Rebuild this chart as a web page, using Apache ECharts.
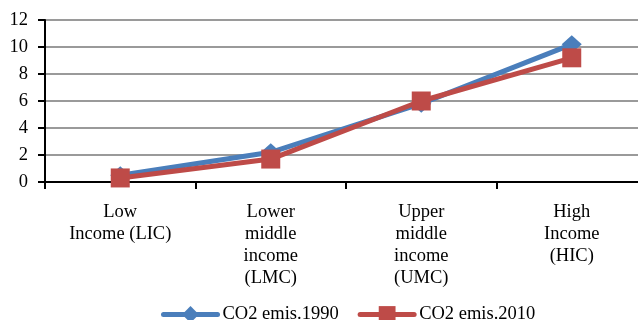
<!DOCTYPE html>
<html>
<head>
<meta charset="utf-8">
<script src="https://cdn.jsdelivr.net/npm/echarts@6/dist/echarts.min.js"></script>
<style>
  html, body { margin: 0; padding: 0; background: #fff; overflow: hidden; }
  /* plot area runs slightly past the right edge of the window */
  #chart { width: 647px; height: 320px; }
</style>
</head>
<body>
<div id="chart"></div>
<script>
// Income groups on the category axis
const categories = [
  'Low\nIncome (LIC)',
  'Lower\nmiddle\nincome\n(LMC)',
  'Upper\nmiddle\nincome\n(UMC)',
  'High\nIncome\n(HIC)'
];
// CO2 emissions per capita (metric tons)
const emis1990 = [0.5, 2.2, 5.8, 10.2];
const emis2010 = [0.3, 1.7, 6.0, 9.2];
const yTicks = { min: 0, max: 12, interval: 2 };

const font = '"Liberation Serif", "Times New Roman", serif';
const fs = 18.5;
const chart = echarts.init(document.getElementById('chart'), null, { renderer: 'canvas' });

chart.setOption({
  animation: false,
  backgroundColor: '#ffffff',
  textStyle: { fontFamily: font },
  grid: { left: 45, top: 20, right: 0, height: 162, containLabel: false },
  legend: {
    left: 156,
    top: 300,
    itemWidth: 54,
    itemHeight: 21,
    itemGap: 19,
    lineStyle: { width: 5, cap: 'round' },
    textStyle: { fontFamily: font, fontSize: fs, color: '#000' },
    data: ['CO2 emis.1990', 'CO2 emis.2010']
  },
  xAxis: {
    type: 'category',
    data: categories,
    boundaryGap: true,
    axisLine: { lineStyle: { color: '#000', width: 2 } },
    axisTick: { show: true, length: 7, lineStyle: { color: '#000', width: 2 } },
    axisLabel: {
      fontFamily: font, fontSize: fs, color: '#000', lineHeight: 22,
      margin: 19, interval: 0, align: 'center'
    },
    splitLine: { show: false }
  },
  yAxis: {
    type: 'value',
    min: yTicks.min,
    max: yTicks.max,
    interval: yTicks.interval,
    axisLine: { show: true, lineStyle: { color: '#000', width: 2 } },
    axisTick: { show: true, inside: false, length: 7, lineStyle: { color: '#000', width: 2 } },
    axisLabel: { fontFamily: font, fontSize: fs, color: '#000', margin: 17 },
    splitLine: { show: true, lineStyle: { color: '#9a9a9a', width: 2 } }
  },
  series: [
    {
      name: 'CO2 emis.1990',
      type: 'line',
      data: emis1990,
      symbol: 'diamond',
      symbolSize: [20, 18],
      z: 2,
      lineStyle: { color: '#4a7ebb', width: 5 },
      itemStyle: { color: '#4a7ebb' }
    },
    {
      name: 'CO2 emis.2010',
      type: 'line',
      data: emis2010,
      symbol: 'rect',
      symbolSize: 19,
      z: 3,
      lineStyle: { color: '#be4b48', width: 5 },
      itemStyle: { color: '#be4b48' }
    }
  ]
});
</script>
</body>
</html>
